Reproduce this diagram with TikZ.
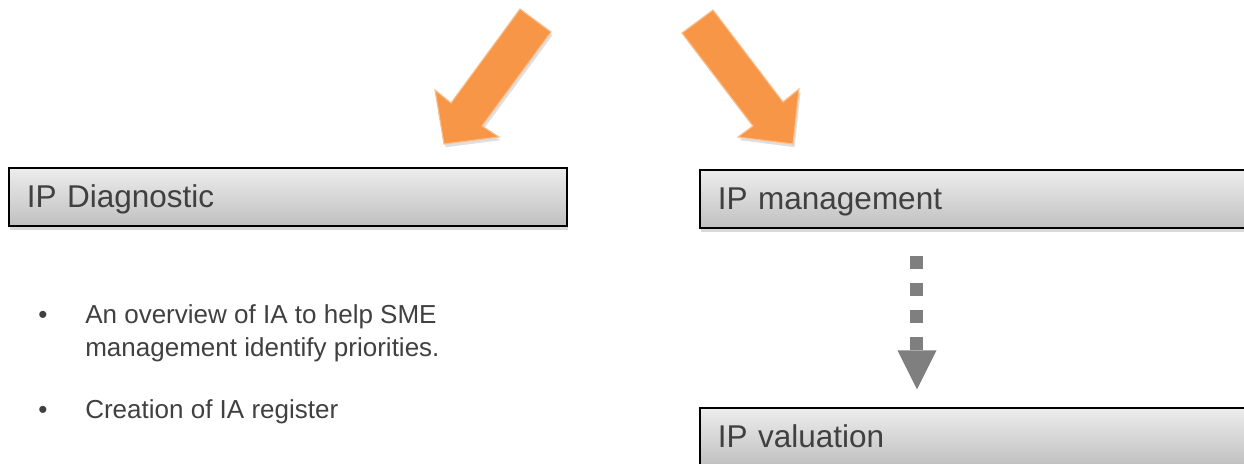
\documentclass[tikz,border=0pt]{standalone}
\usepackage{fontspec}
\setmainfont{Liberation Sans}
\usetikzlibrary{arrows.meta,shadows}

\definecolor{ipOrange}{HTML}{F79646}
\definecolor{ipOrangeEdge}{HTML}{FBBE8C}
\definecolor{ipText}{HTML}{404040}
\definecolor{ipGray}{HTML}{7F7F7F}
\definecolor{ipTop}{HTML}{EDEDED}
\definecolor{ipBottom}{HTML}{C0C0C0}

\begin{document}
\begin{tikzpicture}[x=0.025cm,y=-0.025cm]

% Styles
\tikzset{
    ipbox/.style={
        draw=black,
        line width=1pt,
        top color=ipTop,
        bottom color=ipBottom,
        text=ipText,
        font=\fontsize{22.4}{26}\selectfont,
        align=left,
        inner xsep=0.45cm,
        text height=0.58cm,
        text depth=0.08cm,
        minimum height=1.45cm,
        drop shadow={shadow xshift=0.03cm, shadow yshift=-0.09cm, opacity=0.3}
    },
    bullettext/.style={
        text=ipText,
        font=\fontsize{18.5}{23.5}\selectfont,
        align=left,
        inner sep=0pt
    },
    orangearrow/.style={
        fill=ipOrange,
        draw=ipOrangeEdge,
        line width=0.8pt,
        line join=miter,
        drop shadow={shadow xshift=0.04cm, shadow yshift=-0.08cm, opacity=0.25}
    },
    grayflow/.style={
        draw=ipGray,
        line width=0.325cm,
        dash pattern=on 0.325cm off 0.35cm,
        -{Triangle[length=0.975cm, width=0.975cm, line width=0pt]}
    },
}

\useasboundingbox (0,0) rectangle (1244,463);

% Orange arrows
\filldraw[orangearrow] (520,9) -- (551,32) -- (482,126) -- (499,137)
    -- (444,144) -- (435,90) -- (451,103) -- cycle;
\filldraw[orangearrow] (713,10) -- (682,33) -- (753,126) -- (738,137)
    -- (793,144) -- (799,89) -- (783,102) -- cycle;

% Boxes
\node[ipbox, text width=13.05cm] (diag) at (288,197) {IP Diagnostic};
\node[ipbox, text width=12.85cm] (mgmt) at (975,199) {IP management};
\node[ipbox, text width=12.85cm] (valu) at (975,437) {IP valuation};

% Dotted arrow
\draw[grayflow] ([xshift=-1.45cm, yshift=-0.675cm]mgmt.south)
    -- ([xshift=-1.45cm, yshift=0.45cm]valu.north);

% Bullet list
\node[bullettext, anchor=base] (dotA) at (43,323) {•};
\node[bullettext, anchor=north west] (overview) at (85,304)
    {An overview of IA to help SME\\management identify priorities.};
\node[bullettext, anchor=base] (dotB) at (43,418) {•};
\node[bullettext, anchor=base west] (register) at (85,418)
    {Creation of IA register};

\end{tikzpicture}
\end{document}
